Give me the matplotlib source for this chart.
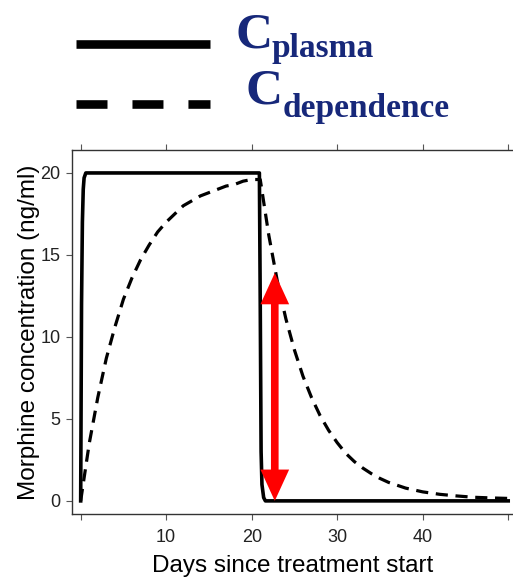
import matplotlib
matplotlib.use("Agg")
import matplotlib.pyplot as plt
from matplotlib.lines import Line2D

# values
days_plasma = [0, 0.1, 0.2, 0.3, 0.4, 0.6, 20.9, 21.0, 21.1, 21.2, 21.4, 21.6, 50]
c_plasma = [0, 12, 17, 19, 19.7, 20, 20, 12, 3, 1, 0.2, 0, 0]

days_dep = [0, 1, 2, 3, 4, 5, 6, 7, 8, 9, 10, 11, 12, 13, 14, 15, 16, 17, 18, 19, 20, 21,
            22, 23, 24, 25, 26, 27, 28, 29, 30, 31, 32, 33, 34, 35, 36, 38, 40, 42, 44,
            46, 48, 50]
c_dep = [0, 3.5, 6.3, 8.7, 10.6, 12.3, 13.6, 14.7, 15.6, 16.4, 17.0, 17.5, 18.0, 18.3,
         18.6, 18.8, 19.0, 19.2, 19.3, 19.5, 19.6, 19.6,
         16.2, 13.4, 11.1, 9.2, 7.6, 6.3, 5.2, 4.3, 3.55, 2.9, 2.4, 2.0, 1.66, 1.37,
         1.13, 0.78, 0.55, 0.4, 0.3, 0.22, 0.18, 0.15]

arrow_day = 22.7
arrow_low, arrow_high = 0, 13.9

xticks = [0, 10, 20, 30, 40, 50]
xticklabels = ['', '10', '20', '30', '40', '']
yticks = [0, 5, 10, 15, 20]

W, H = 513, 579
fig = plt.figure(figsize=(W / 100, H / 100), dpi=100)
ax = fig.add_axes([71.7 / W, 1 - 514 / H, 1 - 71.7 / W, (514 - 150) / H])

ax.plot(days_plasma, c_plasma, color='black', lw=2.6, solid_joinstyle='round')
ax.plot(days_dep, c_dep, color='black', lw=2.3, dashes=(3.8, 2.4))

ax.annotate('', xy=(arrow_day, arrow_high), xytext=(arrow_day, arrow_low),
            arrowprops=dict(arrowstyle='<|-|>,head_length=1.2,head_width=0.55',
                            color='red', lw=5.5, shrinkA=0, shrinkB=0,
                            mutation_scale=11, joinstyle='miter', capstyle='butt'))

ax.set_xlim(-1.05, 50.56)
ax.set_ylim(-0.8, 21.4)
ax.set_xticks(xticks)
ax.set_xticklabels(xticklabels)
ax.set_yticks(yticks)
ax.tick_params(direction='out', length=4.5, color='#555555', labelsize=13,
               labelcolor='#222222', top=True)
ax.tick_params(axis='x', pad=6)
ax.spines['right'].set_visible(False)
for s in ['left', 'bottom', 'top']:
    ax.spines[s].set_color('#333333')
    ax.spines[s].set_linewidth(1.0)

ax.set_xlabel('Days since treatment start', fontsize=17.5, family='Liberation Sans',
              labelpad=7)
ax.set_ylabel('Morphine concentration (ng/ml)', fontsize=17.5, family='Liberation Sans',
              labelpad=0)
for lab in ax.get_xticklabels() + ax.get_yticklabels():
    lab.set_family('Liberation Sans')

# legend drawn in figure space
def fx(px):
    return px / W

def fy(py):
    return 1 - py / H

fig.add_artist(Line2D([fx(76), fx(210)], [fy(43.5), fy(43.5)], color='black', lw=6.2,
                      solid_capstyle='butt'))
fig.add_artist(Line2D([fx(76), fx(210)], [fy(104), fy(104)], color='black', lw=6.2,
                      dashes=(3.6, 2.9), dash_capstyle='butt'))

navy = '#17287a'
serif = dict(family='Liberation Serif', weight='bold', color=navy, va='baseline')
fig.text(fx(236), fy(47), 'C', fontsize=37, **serif)
fig.text(fx(271), fy(57), 'plasma', fontsize=24, **serif)
fig.text(fx(246), fy(104), 'C', fontsize=37, **serif)
fig.text(fx(283), fy(117), 'dependence', fontsize=24, **serif)

fig.savefig('out.png', dpi=100)
